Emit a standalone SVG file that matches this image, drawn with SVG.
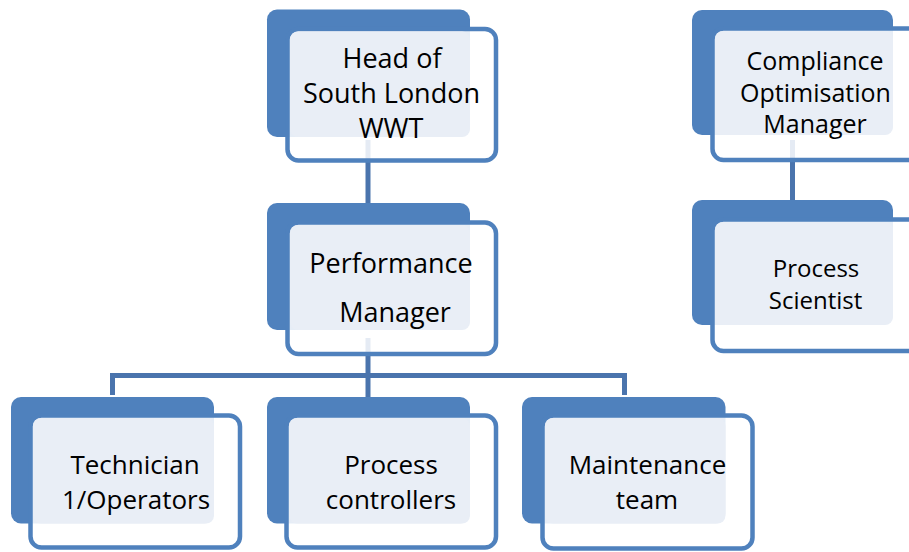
<svg xmlns="http://www.w3.org/2000/svg" width="909" height="552" viewBox="0 0 909 552">
  <style>
    .back { fill: #4F81BD; }
    .front { fill: #FFFFFF; fill-opacity: 0.86; stroke: #4F81BD; stroke-width: 4.5; }
    .txtbox { fill: #E9EEF6; }
    .wire { fill: none; stroke: #4A74AD; stroke-width: 5; }
    .lbl { font-family: "Open Sans", "Noto Sans", "Liberation Sans", sans-serif; font-size: 27px; fill: #000000; text-anchor: middle; }
    .md { font-size: 26px; }
    .sm { font-size: 25px; }
    .xs { font-size: 24px; }
  </style>
  <rect width="909" height="552" fill="#FFFFFF"/>

  <!-- connectors (drawn first so the boxes sit over them) -->
  <g id="connectors">
    <path class="wire" d="M368,140 V226"/>
    <path class="wire" d="M368,338 V398"/>
    <path class="wire" d="M112.5,395 V375.5 H624.5 V395"/>
    <path class="wire" d="M792.5,140 V203"/>
  </g>

  <g id="head">
    <rect class="back" x="267" y="9.5" width="203" height="127.5" rx="10"/>
    <rect class="front" x="287.5" y="29" width="208.5" height="131.5" rx="11"/>
    <rect class="txtbox" x="290" y="31.5" width="180" height="105.5" rx="8"/>
    <text class="lbl"><tspan x="392" y="68">Head of</tspan><tspan x="391.5" y="103">South London</tspan><tspan x="391" y="138">WWT</tspan></text>
  </g>

  <g id="performance">
    <rect class="back" x="267" y="203" width="203" height="127" rx="10"/>
    <rect class="front" x="287.5" y="222.5" width="208.5" height="131.5" rx="11"/>
    <rect class="txtbox" x="290" y="225" width="180" height="105" rx="8"/>
    <text class="lbl"><tspan x="391" y="273">Performance</tspan><tspan x="395" y="322">Manager</tspan></text>
  </g>

  <g id="technician">
    <rect class="back" x="11" y="397" width="203" height="126.5" rx="10"/>
    <rect class="front" x="30.5" y="415.5" width="209.5" height="132" rx="11"/>
    <rect class="txtbox" x="33" y="418" width="181" height="105.5" rx="8"/>
    <text class="lbl md"><tspan x="135" y="474">Technician</tspan><tspan x="136" y="509">1/Operators</tspan></text>
  </g>

  <g id="process-controllers">
    <rect class="back" x="267" y="397" width="203" height="126.5" rx="10"/>
    <rect class="front" x="286.5" y="415.5" width="209.5" height="132" rx="11"/>
    <rect class="txtbox" x="289" y="418" width="181" height="105.5" rx="8"/>
    <text class="lbl md"><tspan x="391" y="474">Process</tspan><tspan x="391" y="509">controllers</tspan></text>
  </g>

  <g id="maintenance">
    <rect class="back" x="522" y="397" width="203.5" height="126.5" rx="10"/>
    <rect class="front" x="542.5" y="415.5" width="210" height="133" rx="11"/>
    <rect class="txtbox" x="545" y="418" width="180.5" height="105.5" rx="8"/>
    <text class="lbl md"><tspan x="647.5" y="474">Maintenance</tspan><tspan x="647" y="509">team</tspan></text>
  </g>

  <g id="compliance">
    <rect class="back" x="692" y="10" width="201" height="125" rx="10"/>
    <rect class="front" x="712.5" y="28.5" width="208.5" height="131.5" rx="11"/>
    <rect class="txtbox" x="715" y="31" width="178" height="104" rx="8"/>
    <text class="lbl sm"><tspan x="815" y="70">Compliance</tspan><tspan x="815.5" y="102">Optimisation</tspan><tspan x="815" y="133">Manager</tspan></text>
  </g>

  <g id="scientist">
    <rect class="back" x="692" y="200" width="201" height="125" rx="10"/>
    <rect class="front" x="712.5" y="219.5" width="208.5" height="131.5" rx="11"/>
    <rect class="txtbox" x="715" y="222" width="178" height="103" rx="8"/>
    <text class="lbl xs"><tspan x="816" y="277">Process</tspan><tspan x="815.5" y="309">Scientist</tspan></text>
  </g>
</svg>
